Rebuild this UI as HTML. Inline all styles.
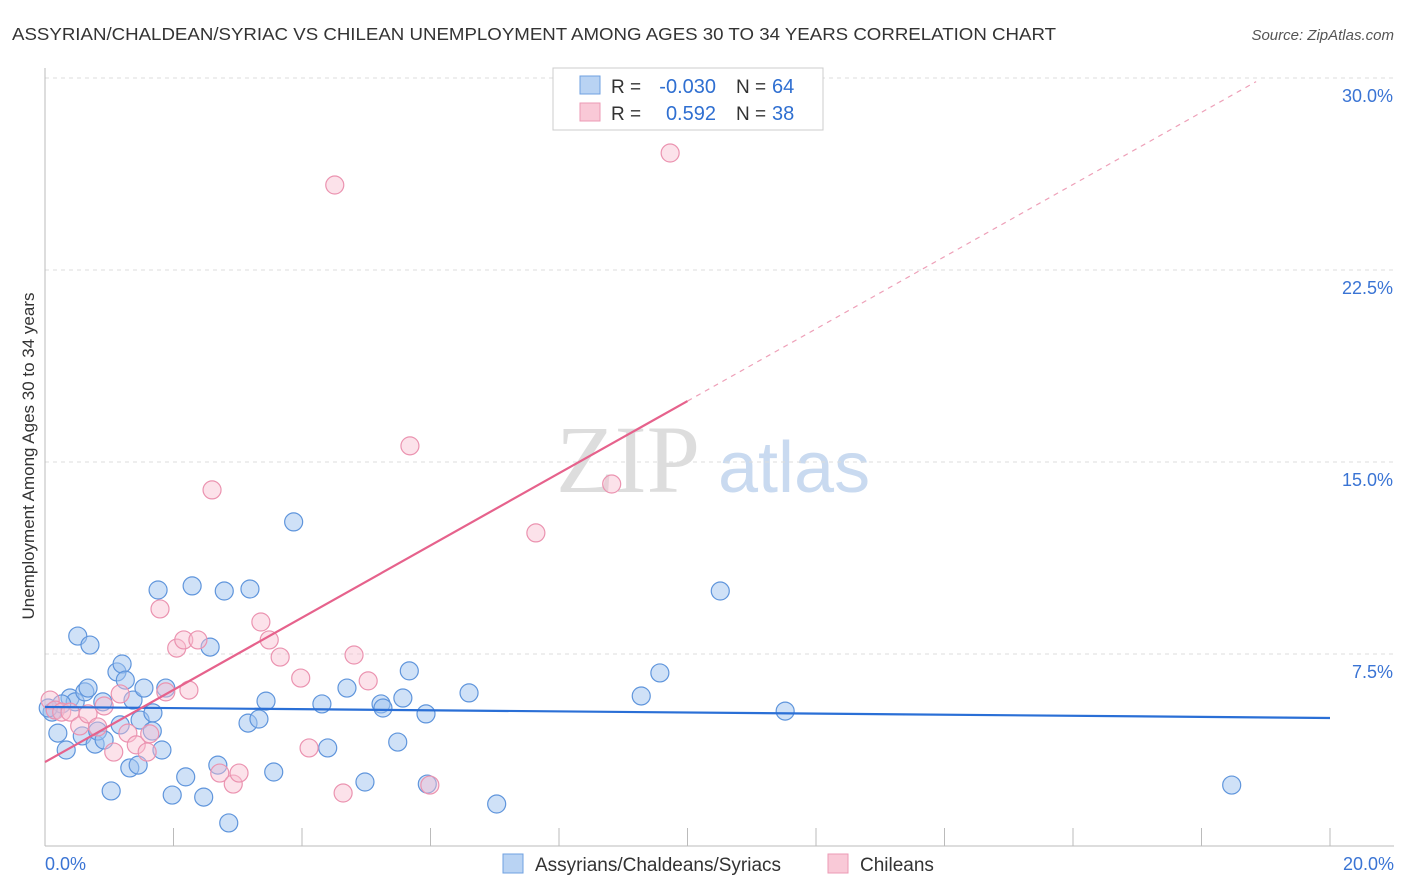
<!DOCTYPE html>
<html><head><meta charset="utf-8"><style>
body{margin:0;background:#fff;font-family:"Liberation Sans",sans-serif}
svg{display:block}
</style></head><body>
<svg id="c" width="1406" height="892">
<text x="12" y="40" font-size="17.5" fill="#333" textLength="1044" lengthAdjust="spacingAndGlyphs">ASSYRIAN/CHALDEAN/SYRIAC VS CHILEAN UNEMPLOYMENT AMONG AGES 30 TO 34 YEARS CORRELATION CHART</text>
<text x="1394" y="40" font-size="15" fill="#555" font-style="italic" text-anchor="end">Source: ZipAtlas.com</text>
<text x="556" y="492" font-size="96" fill="#ddd" font-family="Liberation Serif,serif">ZIP</text>
<text x="718" y="492" font-size="72" fill="#c9daf0">atlas</text>
<g id="grid"></g><g id="axes"></g><g id="pts"></g><g id="lines"></g>
<text transform="translate(34,456) rotate(-90)" font-size="17" fill="#333" text-anchor="middle">Unemployment Among Ages 30 to 34 years</text>
<g>
<rect x="553" y="68" width="270" height="62" fill="#fff" stroke="#ccc"/>
<rect x="580" y="76" width="20" height="18" fill="#b9d3f3" stroke="#6fa0e0"/>
<rect x="580" y="103" width="20" height="18" fill="#f9c9d7" stroke="#ec9ab4"/>
<text x="611" y="93" font-size="19" fill="#333">R =</text>
<text x="716" y="93" font-size="20" fill="#2f6fd1" text-anchor="end">-0.030</text>
<text x="736" y="93" font-size="19" fill="#333">N =</text>
<text x="772" y="93" font-size="20" fill="#2f6fd1">64</text>
<text x="611" y="120" font-size="19" fill="#333">R =</text>
<text x="716" y="120" font-size="20" fill="#2f6fd1" text-anchor="end">0.592</text>
<text x="736" y="120" font-size="19" fill="#333">N =</text>
<text x="772" y="120" font-size="20" fill="#2f6fd1">38</text>
</g>
<g>
<rect x="503" y="854" width="20" height="19" fill="#b9d3f3" stroke="#6fa0e0"/>
<text x="535" y="871" font-size="19" fill="#333">Assyrians/Chaldeans/Syriacs</text>
<rect x="828" y="854" width="20" height="19" fill="#f9c9d7" stroke="#ec9ab4"/>
<text x="860" y="871" font-size="19" fill="#333">Chileans</text>
</g>
</svg>
<script>
const yTicks=[7.5,15,22.5,30];
const yTickLabels=["7.5%","15.0%","22.5%","30.0%"];
const xTickLabels=["0.0%","20.0%"];
const blueX=[0.16,0.11,0.20,0.33,0.39,0.47,0.51,0.62,0.67,0.70,0.58,0.78,0.82,0.92,0.90,1.03,1.12,1.20,1.25,1.17,1.32,1.37,1.45,1.48,1.54,1.68,1.67,1.76,1.82,1.88,1.98,2.19,2.29,2.47,2.57,2.69,2.79,2.86,3.16,3.19,3.33,3.44,3.56,3.87,4.31,4.40,4.70,4.98,5.23,5.26,5.49,5.57,5.67,5.93,5.95,6.60,7.03,9.28,9.57,10.51,11.52,18.47,0.26,0.05];
const blueY=[5.31,5.23,4.41,3.75,5.78,5.63,8.20,6.02,6.17,7.85,4.30,3.98,4.49,4.14,5.63,2.15,6.80,7.11,6.48,4.73,3.05,5.70,3.16,4.92,6.17,5.20,4.49,10.0,3.75,6.17,1.99,2.70,10.16,1.91,7.77,3.16,9.96,0.90,4.80,10.04,4.96,5.66,2.89,12.66,5.55,3.83,6.17,2.50,5.55,5.39,4.06,5.78,6.84,5.16,2.42,5.98,1.64,5.86,6.76,9.96,5.27,2.38,5.55,5.39];
const pinkX=[0.08,0.16,0.26,0.39,0.54,0.67,0.82,0.92,1.07,1.17,1.29,1.42,1.59,1.63,1.79,1.88,2.05,2.16,2.24,2.38,2.60,2.72,2.93,3.02,3.36,3.49,3.66,3.98,4.11,4.51,4.64,4.81,5.03,5.68,5.99,7.64,8.82,9.73];
const pinkY=[5.70,5.31,5.23,5.23,4.69,5.16,4.65,5.47,3.67,5.94,4.41,3.95,3.67,4.38,9.26,6.02,7.73,8.05,6.09,8.05,13.91,2.85,2.42,2.85,8.75,8.05,7.38,6.56,3.83,25.82,2.07,7.46,6.45,15.63,2.38,12.23,14.14,27.07];
const blueFit=[5.43,5.0];
const pinkFit=[3.28,1.41];
const NS="http://www.w3.org/2000/svg";
const X=v=>45+v*64.25, Y=v=>846-v*25.6;
function mk(tag,parent,attrs){const e=document.createElementNS(NS,tag);for(const k in attrs)e.setAttribute(k,attrs[k]);document.getElementById(parent).appendChild(e);return e;}
yTicks.forEach((t,i)=>{
 const l=mk('line','grid',{x1:45,x2:1394,y1:Y(t),y2:Y(t),stroke:'#ddd','stroke-dasharray':'4,4'});
 
 
 const tx=mk('text','grid',{x:1393,y:Y(t)+24,'font-size':18,fill:'#3a74d4','text-anchor':'end'});
 tx.textContent=yTickLabels[i];
 
 
});
let a=mk('line','axes',{x1:45,x2:45,y1:68,y2:846,stroke:'#bbb'});


a=mk('line','axes',{x1:45,x2:1394,y1:846,y2:846,stroke:'#bbb'});


for(let i=1;i<=10;i++){
 const t=mk('line','axes',{x1:X(i*2),x2:X(i*2),y1:828,y2:846,stroke:'#bbb'});
 
 
}
[[0,'start',45],[20,'end',1394]].forEach((d,i)=>{
 const tx=mk('text','axes',{x:d[2],y:870,'font-size':18,fill:'#3a74d4','text-anchor':d[1]});
 tx.textContent=xTickLabels[i];
 
 
});
blueX.forEach((v,i)=>{
 const c=mk('circle','pts',{cx:X(v),cy:Y(blueY[i]),r:9,fill:'rgba(160,195,240,0.5)',stroke:'#5f95dc','stroke-width':1.2});
 
 
});
pinkX.forEach((v,i)=>{
 const c=mk('circle','pts',{cx:X(v),cy:Y(pinkY[i]),r:9,fill:'rgba(248,190,208,0.45)',stroke:'#eb93b0','stroke-width':1.2});
 
 
});
let ln=mk('line','lines',{x1:X(0),y1:Y(blueFit[0]),x2:X(20),y2:Y(blueFit[1]),stroke:'#2a6fd6','stroke-width':2.2});


ln=mk('line','lines',{x1:X(0),y1:Y(pinkFit[0]),x2:X(10),y2:Y(pinkFit[0]+pinkFit[1]*10),stroke:'#e6628c','stroke-width':2.2});


ln=mk('line','lines',{x1:X(10),y1:Y(pinkFit[0]+pinkFit[1]*10),x2:X(18.85),y2:Y(pinkFit[0]+pinkFit[1]*18.85),stroke:'#eea0b8','stroke-width':1.2,'stroke-dasharray':'5,5'});


</script>
</body></html>
